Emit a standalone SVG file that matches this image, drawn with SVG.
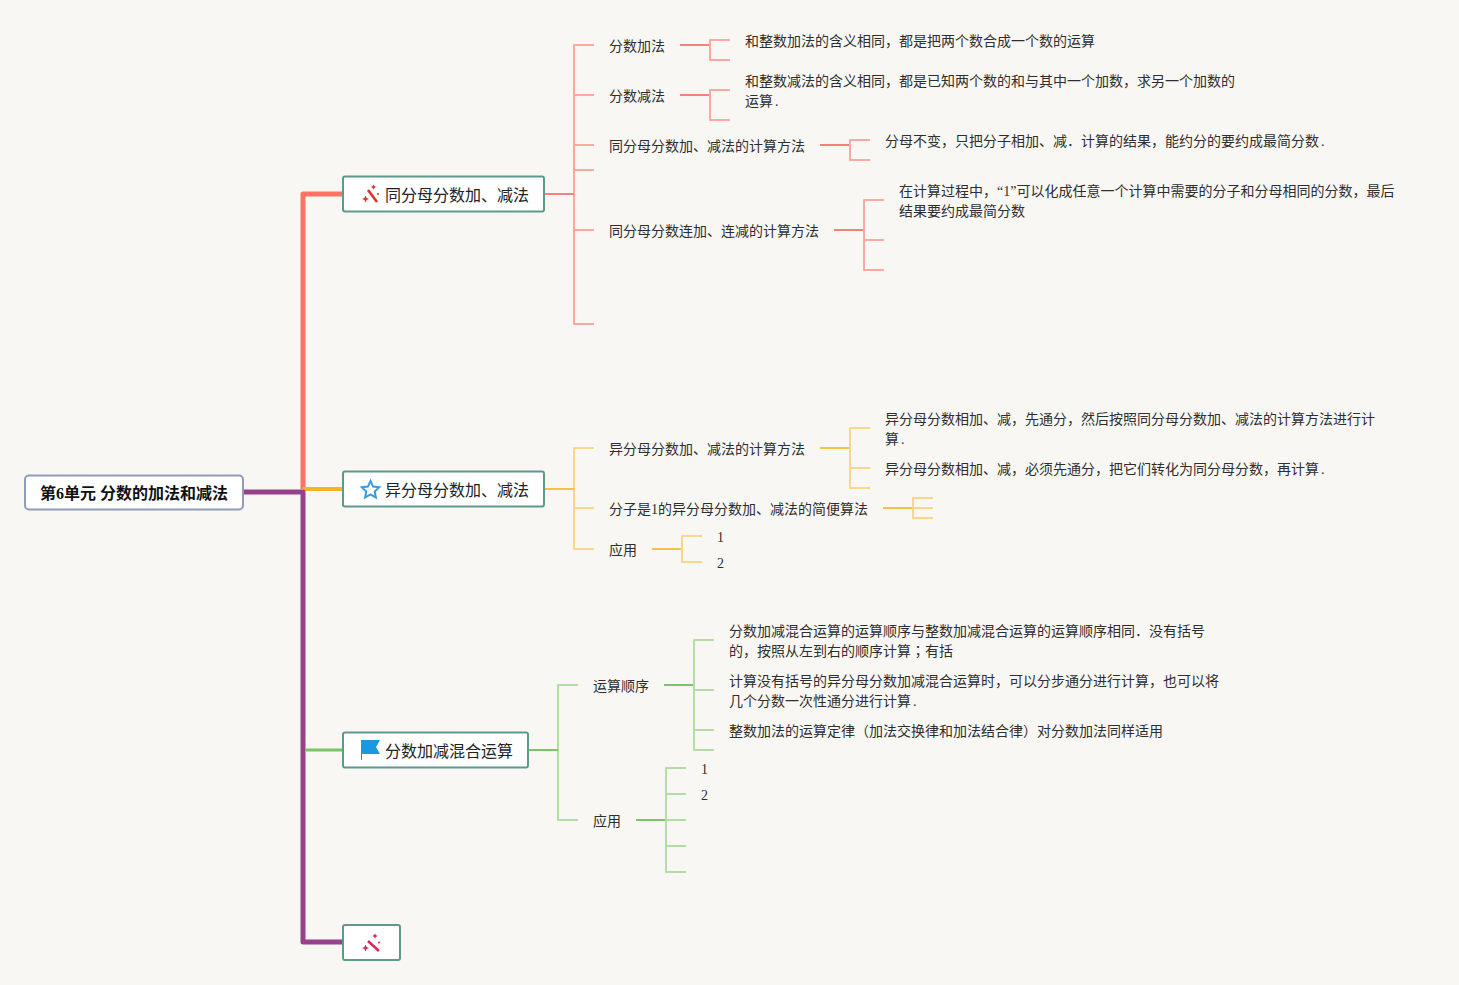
<svg xmlns="http://www.w3.org/2000/svg" width="1459" height="985" viewBox="0 0 1459 985">
<style>
text{font-family:"Liberation Serif","Noto Sans CJK SC",serif;font-size:14px;fill:#2e2e2e}
.main{font-size:16px;fill:#222}
.root{font-size:16px;font-weight:bold;fill:#111}
.box{fill:#fff;stroke:#5d9a8e;stroke-width:2}
.c{fill:none;stroke-linejoin:round}
.r1{stroke:#f8a9a0;stroke-width:2}.r2{stroke:#f4827a;stroke-width:2}
.y1{stroke:#fad68a;stroke-width:2}.y2{stroke:#f6c244;stroke-width:2}
.g1{stroke:#b5dba6;stroke-width:2}.g2{stroke:#7cc36a;stroke-width:2}
</style>
<rect width="1459" height="985" fill="#f9f7f4"/>
<g id="connectors">
<path class="c" d="M303 489V194H343" stroke="#fb7562" stroke-width="5"/>
<path class="c" d="M303 489H343" stroke="#f5b71f" stroke-width="4"/>
<path class="c" d="M244 492H303V942H343" stroke="#96418a" stroke-width="5"/>
<path class="c" d="M305 750H343" stroke="#7cc36a" stroke-width="3"/>
<path class="c r1" d="M594 45H574V324H594M574 95H594M574 145H594M574 170H594M574 230H594"/>
<path class="c r2" d="M545 194H574"/>
<path class="c r2" d="M680 45H710"/><path class="c r1" d="M730 40H710V60H730"/>
<path class="c r2" d="M680 95H710"/><path class="c r1" d="M730 90H710V120H730"/>
<path class="c r2" d="M820 145H850"/><path class="c r1" d="M870 140H850V160H870"/>
<path class="c r2" d="M834 230H864"/><path class="c r1" d="M884 200H864V270H884M864 240H884"/>
<path class="c y1" d="M594 448H574V549H594M574 508H594"/>
<path class="c y2" d="M545 489H574"/>
<path class="c y2" d="M820 448H850"/><path class="c y1" d="M870 428H850V488H870M850 468H870"/>
<path class="c y2" d="M883 508H913"/><path class="c y1" d="M933 498H913V518H933M913 508H933"/>
<path class="c y2" d="M652 549H682"/><path class="c y1" d="M702 536H682V562H702"/>
<path class="c g1" d="M578 685H558V820H578"/>
<path class="c g2" d="M529 750H558"/>
<path class="c g2" d="M664 685H694"/><path class="c g1" d="M714 640H694V750H714M694 690H714M694 730H714"/>
<path class="c g2" d="M636 820H666"/><path class="c g1" d="M686 768H666V872H686M666 794H686M666 820H686M666 846H686"/>
</g>
<g id="root"><rect x="25" y="475.500" width="218" height="34" rx="4" fill="#fff" stroke="#8f9bb8" stroke-width="2"/><text class="root" x="40" y="499">第6单元 分数的加法和减法</text></g>
<g id="n1"><rect class="box" x="343" y="176.500" width="201" height="35" rx="2"/>
<g fill="#d8392b"><path d="M368 190L377 202" stroke="#d8392b" stroke-width="2.600"/><path d="M365.500 195.500l1.100 2.400 2.400 1.100-2.400 1.100-1.100 2.400-1.100-2.400-2.400-1.100 2.400-1.100zM373.500 184.500l.9 1.600 1.600.9-1.600.9-.9 1.600-.9-1.600-1.600-.9 1.600-.9z"/><circle cx="378" cy="194" r="1"/></g>
<text class="main" x="385" y="201">同分母分数加、减法</text></g>
<g id="n2"><rect class="box" x="343" y="471.500" width="201" height="35" rx="2"/>
<path d="M370.500 481l2.600 5.600 6.100.7-4.500 4.200 1.200 6-5.400-3-5.400 3 1.200-6-4.500-4.200 6.100-.7z" fill="none" stroke="#3a9bdc" stroke-width="2"/>
<text class="main" x="385" y="496">异分母分数加、减法</text></g>
<g id="n3"><rect class="box" x="343" y="732.500" width="185" height="35" rx="2"/>
<path d="M361 740H380L376 747L380 754H362V760H361Z" fill="#1b98e0"/>
<text class="main" x="385" y="757">分数加减混合运算</text></g>
<g id="n4"><rect class="box" x="343" y="925" width="57" height="35" rx="2"/>
<g fill="#e0245e"><path d="M368 941L379 951" stroke="#e0245e" stroke-width="2.600"/><path d="M365.500 944.500l1.100 2.400 2.400 1.100-2.400 1.100-1.100 2.400-1.100-2.400-2.400-1.100 2.400-1.100zM375 933.500l.9 1.600 1.600.9-1.600.9-.9 1.600-.9-1.600-1.600-.9 1.600-.9z"/><circle cx="379" cy="942.500" r="1"/></g></g>
<g id="t1"><text x="609" y="51">分数加法</text><text x="745" y="46">和整数加法的含义相同，都是把两个数合成一个数的运算</text></g>
<g id="t2"><text x="609" y="101">分数减法</text><text x="745" y="86">和整数减法的含义相同，都是已知两个数的和与其中一个加数，求另一个加数的</text><text x="745" y="106">运算<tspan dx="2">.</tspan></text></g>
<g id="t3"><text x="609" y="151">同分母分数加、减法的计算方法</text><text x="885" y="146">分母不变，只把分子相加、减．计算的结果，能约分的要约成最简分数<tspan dx="2">.</tspan></text></g>
<g id="t4"><text x="609" y="236">同分母分数连加、连减的计算方法</text><text x="899" y="196">在计算过程中，“1”可以化成任意一个计算中需要的分子和分母相同的分数，最后</text><text x="899" y="216">结果要约成最简分数</text></g>
<g id="t5"><text x="609" y="454">异分母分数加、减法的计算方法</text><text x="885" y="424">异分母分数相加、减，先通分，然后按照同分母分数加、减法的计算方法进行计</text><text x="885" y="444">算<tspan dx="2">.</tspan></text><text x="885" y="474">异分母分数相加、减，必须先通分，把它们转化为同分母分数，再计算<tspan dx="2">.</tspan></text></g>
<g id="t6"><text x="609" y="514">分子是1的异分母分数加、减法的简便算法</text></g>
<g id="t7"><text x="609" y="555">应用</text><text x="717" y="542">1</text><text x="717" y="568">2</text></g>
<g id="t8"><text x="593" y="691">运算顺序</text><text x="729" y="636">分数加减混合运算的运算顺序与整数加减混合运算的运算顺序相同．没有括号</text><text x="729" y="656">的，按照从左到右的顺序计算<tspan style="font-family:'Noto Sans CJK TC'">；</tspan>有括</text><text x="729" y="686">计算没有括号的异分母分数加减混合运算时，可以分步通分进行计算，也可以将</text><text x="729" y="706">几个分数一次性通分进行计算<tspan dx="2">.</tspan></text><text x="729" y="736">整数加法的运算定律（加法交换律和加法结合律）对分数加法同样适用</text></g>
<g id="t9"><text x="593" y="826">应用</text><text x="701" y="774">1</text><text x="701" y="800">2</text></g>
</svg>
